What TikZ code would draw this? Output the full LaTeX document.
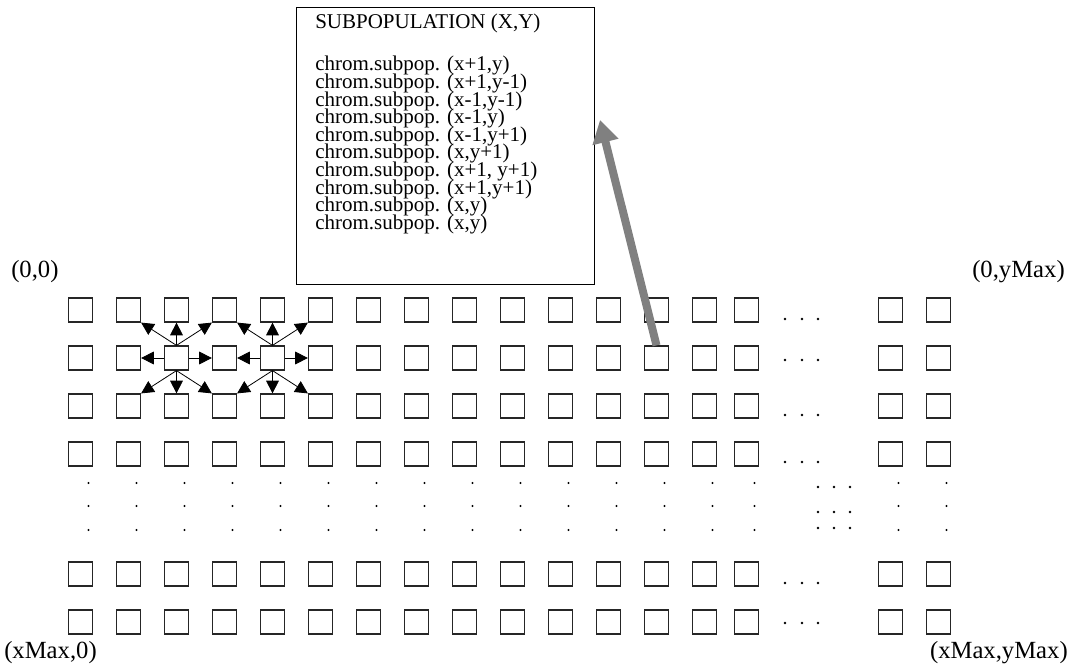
\documentclass[tikz,border=0pt]{standalone}
\usepackage{fontspec}
\setmainfont{Liberation Serif}
\usepackage{xcolor}
\usetikzlibrary{shapes, arrows.meta, positioning}

\begin{document}
\begin{tikzpicture}[x={(0.75pt,0)}, y={(0,-0.75pt)},
    cell/.style={draw, rectangle, minimum size=18pt, inner sep=0pt, line width=0.9pt, draw=black!85},
    link/.style={-{Triangle[length=9.5pt, width=9.5pt]}, line width=0.6pt},
    corner/.style={inner sep=0pt, font=\fontsize{18.5}{20}\selectfont},
    boxtext/.style={inner sep=0pt, font=\fontsize{15.75}{13.2}\selectfont\setlength{\lineskiplimit}{-20pt}}]
    \useasboundingbox (0,0) rectangle (1071,670);

    % the grid of subpopulations
    \foreach \r/\y in {1/310, 2/358, 3/406, 4/454, 5/574, 6/622}
        \foreach \c/\x in {1/80.5, 2/128.5, 3/176.5, 4/224.5, 5/272.5, 6/320.5, 7/368.5, 8/416.5, 9/464.5,
                           10/512.5, 11/560.5, 12/608.5, 13/656.5, 14/704.5, 15/746.5, 16/890.5, 17/938.5}
            \node [cell] (c-\r-\c) at (\x,\y) {};

    % dots between the rows
    \foreach \x in {80.5, 128.5, 176.5, 224.5, 272.5, 320.5, 368.5, 416.5, 464.5,
                    512.5, 560.5, 608.5, 656.5, 704.5, 746.5, 890.5, 938.5}
        \foreach \y in {483, 506, 530}
            \fill (\x+8,\y) circle (0.8pt);
    \foreach \y in {319, 360, 415, 462, 583, 623}
        \foreach \x in {785, 802, 818}
            \fill (\x,\y) circle (1.05pt);
    \foreach \y in {487, 512, 528}
        \foreach \x in {818, 834, 850}
            \fill (\x,\y) circle (1.05pt);

    % neighbourhood of two subpopulations
    \foreach \m in {3,5} {
        \pgfmathtruncatemacro{\lft}{\m-1}
        \pgfmathtruncatemacro{\rgt}{\m+1}
        \draw [link] (c-2-\m.north) -- (c-1-\lft.south east);
        \draw [link] (c-2-\m.north) -- (c-1-\m.south);
        \draw [link] (c-2-\m.north) -- (c-1-\rgt.south west);
        \draw [link] (c-2-\m.west) -- (c-2-\lft.east);
        \draw [link] (c-2-\m.east) -- (c-2-\rgt.west);
        \draw [link] (c-2-\m.south) -- (c-3-\lft.north east);
        \draw [link] (c-2-\m.south) -- (c-3-\m.north);
        \draw [link] (c-2-\m.south) -- (c-3-\rgt.north west);
    }

    % corner labels
    \node [corner, anchor=base west] (tl) at (11,278) {(0,0)};
    \node [corner, anchor=base east] (tr) at (1065,278) {(0,yMax)};
    \node [corner, anchor=base west] (bl) at (4,658) {(xMax,0)};
    \node [corner, anchor=base east] (br) at (1068,658) {(xMax,yMax)};

    % contents of one subpopulation
    \node [draw, rectangle, line width=0.9pt, anchor=north west, minimum width=223.5pt,
           minimum height=207.75pt, inner sep=0pt] (subpop) at (296,7) {};
    \node [boxtext, anchor=base west] (title) at (315,28.5) {SUBPOPULATION (X,Y)};
    \node [boxtext, anchor=base west, align=left] (members) at (315,229.4)
        {chrom.subpop. (x+1,y)\\
         chrom.subpop. (x+1,y-1)\\
         chrom.subpop. (x-1,y-1)\\
         chrom.subpop. (x-1,y)\\
         chrom.subpop. (x-1,y+1)\\
         chrom.subpop. (x,y+1)\\
         chrom.subpop. (x+1, y+1)\\
         chrom.subpop. (x+1,y+1)\\
         chrom.subpop. (x,y)\\
         chrom.subpop. (x,y)};

    \coordinate (tip) at (600,120);
    \draw [line width=6pt, color=gray, -{Triangle[length=17pt, width=19pt]}] (c-2-13.north) -- (tip);
\end{tikzpicture}
\end{document}
